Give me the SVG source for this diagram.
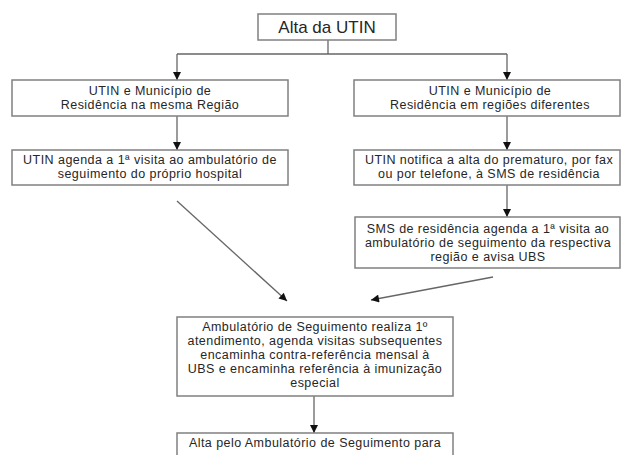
<svg xmlns="http://www.w3.org/2000/svg" width="621" height="455" viewBox="0 0 621 455">
<style>
rect.box{fill:#fff;stroke:#808080;stroke-width:1.5}
text{font-family:"Liberation Sans",Arial,sans-serif;font-size:12.5px;letter-spacing:0.45px;fill:#262626;text-anchor:middle}
.ln{stroke:#666;stroke-width:1.3;fill:none}
</style>
<defs>
<marker id="ah" viewBox="0 0 10 10" refX="10" refY="5" markerWidth="9" markerHeight="8" markerUnits="userSpaceOnUse" orient="auto">
<path d="M0,0 L10,5 L0,10 z" fill="#111"/>
</marker>
</defs>
<rect width="621" height="455" fill="#fff"/>
<g id="connectors">
<path class="ln" d="M328,40 V54"/>
<path class="ln" d="M177,54 H507"/>
<path class="ln" d="M177,54 V80" marker-end="url(#ah)"/>
<path class="ln" d="M507,54 V80" marker-end="url(#ah)"/>
<path class="ln" d="M177,116 V150" marker-end="url(#ah)"/>
<path class="ln" d="M507,116 V150" marker-end="url(#ah)"/>
<path class="ln" d="M507,185 V217" marker-end="url(#ah)"/>
<path class="ln" d="M177,201 L287,301" marker-end="url(#ah)"/>
<path class="ln" d="M493,277 L371,300" marker-end="url(#ah)"/>
<path class="ln" d="M314,396 V433" marker-end="url(#ah)"/>
</g>
<g id="n_alta_utin">
<rect class="box" x="258" y="14" width="138" height="26"/>
<text x="327" y="33" style="font-size:17px;letter-spacing:0">Alta da UTIN</text>
</g>
<g id="n_mesma_regiao">
<rect class="box" x="12" y="80" width="276" height="36"/>
<text x="150" y="95">UTIN e Município de</text>
<text x="150" y="109">Residência na mesma Região</text>
</g>
<g id="n_regioes_diferentes">
<rect class="box" x="354" y="80" width="266" height="36"/>
<text x="490" y="95">UTIN e Município de</text>
<text x="490" y="109">Residência em regiões diferentes</text>
</g>
<g id="n_utin_agenda">
<rect class="box" x="12" y="150" width="276" height="35"/>
<text x="150" y="164">UTIN agenda a 1ª visita ao ambulatório de</text>
<text x="150" y="178">seguimento do próprio hospital</text>
</g>
<g id="n_utin_notifica">
<rect class="box" x="354" y="150" width="266" height="35"/>
<text x="489" y="164">UTIN notifica a alta do prematuro, por fax</text>
<text x="489" y="178">ou por telefone, à SMS de residência</text>
</g>
<g id="n_sms_agenda">
<rect class="box" x="355" y="217" width="265" height="51"/>
<text x="488" y="233">SMS de residência agenda a 1ª visita ao</text>
<text x="488" y="247">ambulatório de seguimento da respectiva</text>
<text x="488" y="261">região e avisa UBS</text>
</g>
<g id="n_ambulatorio">
<rect class="box" x="177" y="317" width="276" height="79"/>
<text x="315" y="331">Ambulatório de Seguimento realiza 1º</text>
<text x="315" y="345">atendimento, agenda visitas subsequentes</text>
<text x="315" y="359">encaminha contra-referência mensal à</text>
<text x="315" y="373">UBS e encaminha referência à imunização</text>
<text x="315" y="387">especial</text>
</g>
<g id="n_alta_ambulatorio">
<rect class="box" x="177" y="433" width="276" height="40"/>
<text x="315" y="447">Alta pelo Ambulatório de Seguimento para</text>
</g>
</svg>
